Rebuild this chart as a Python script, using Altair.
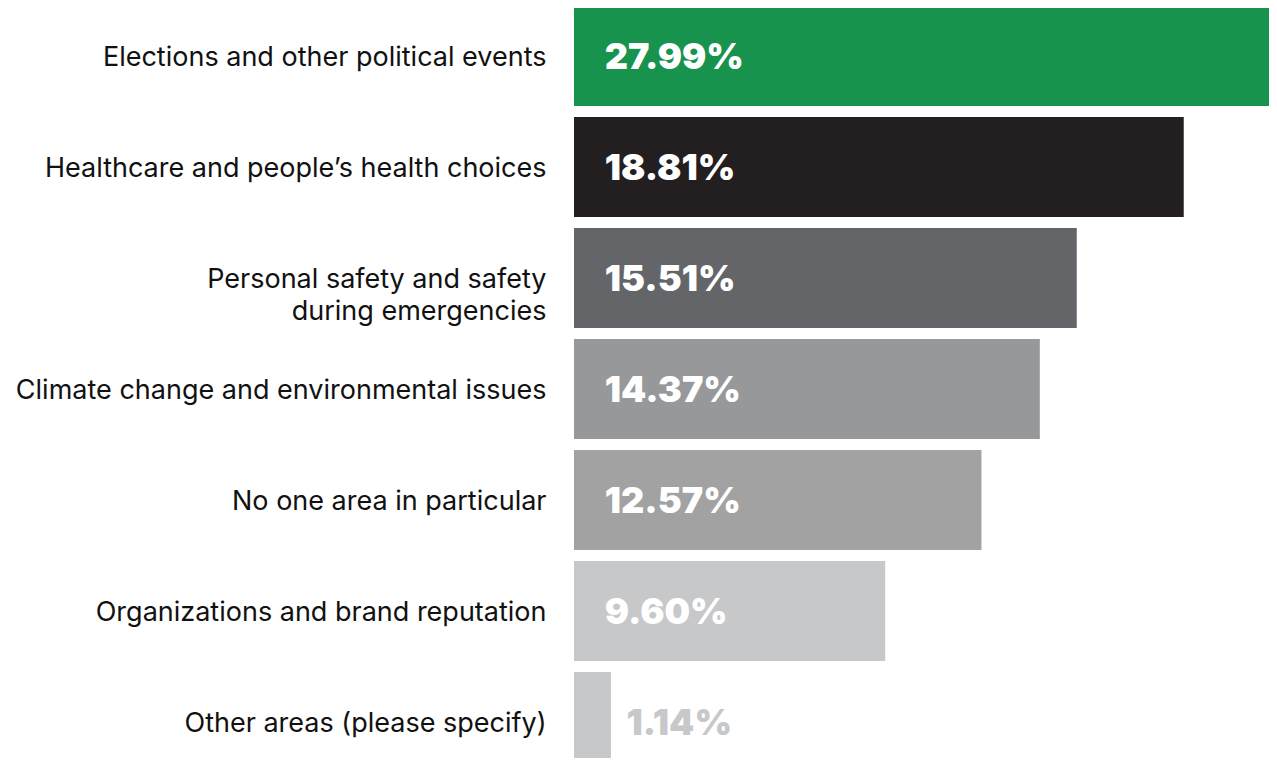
import altair as alt
import pandas as pd

categories = [
    "Elections and other political events",
    "Healthcare and people\u2019s health choices",
    "Personal safety and safety\nduring emergencies",
    "Climate change and environmental issues",
    "No one area in particular",
    "Organizations and brand reputation",
    "Other areas (please specify)",
]
values = [27.99, 18.81, 15.51, 14.37, 12.57, 9.60, 1.14]
labels = ["27.99%", "18.81%", "15.51%", "14.37%", "12.57%", "9.60%", "1.14%"]
bar_colors = ["#17934D", "#231F20", "#646569", "#97989A", "#A2A2A2", "#C7C8CA", "#C7C8CA"]
label_colors = ["#FFFFFF", "#FFFFFF", "#FFFFFF", "#FFFFFF", "#FFFFFF", "#FFFFFF", "#C7C8CA"]

df = pd.DataFrame({
    "category": categories,
    "value": values,
    "label": labels,
    "barcolor": bar_colors,
    "txtcolor": label_colors,
})

y = alt.Y(
    "category:N",
    sort=categories,
    scale=alt.Scale(range=[-2, 764], paddingInner=11 / 111, paddingOuter=0),
    axis=alt.Axis(
        title=None, domain=False, ticks=False, grid=False,
        labelFont="Inter", labelFontSize=27, labelColor="#111111",
        labelPadding=28, labelLimit=600, labelLineHeight=32, labelOffset=2,
        labelExpr="split(datum.label, '\\n')",
    ),
)
xscale = alt.Scale(domain=[0, 21.44], nice=False, zero=True)

bars = alt.Chart(df).mark_bar(clip=True).encode(
    y=y,
    x=alt.X("value:Q", scale=xscale, axis=None),
    color=alt.Color("barcolor:N", scale=None),
)

text = alt.Chart(df).transform_calculate(
    tx="datum.value < 3 ? datum.value + 0.48 : 0.95"
).mark_text(
    align="left", baseline="middle", dy=2, font="Inter", fontSize=36, fontWeight=900,
).encode(
    y=alt.Y("category:N", sort=categories),
    x=alt.X("tx:Q", scale=xscale),
    text="label:N",
    color=alt.Color("txtcolor:N", scale=None),
)

chart = alt.layer(bars, text).properties(
    width=695, height=750,
    autosize=alt.AutoSizeParams(type="none"),
    padding={"left": 566, "top": 0, "right": 0, "bottom": 0},
).configure_view(stroke=None)

chart.save("out.html", embed_options={"renderer": "svg", "actions": False})
